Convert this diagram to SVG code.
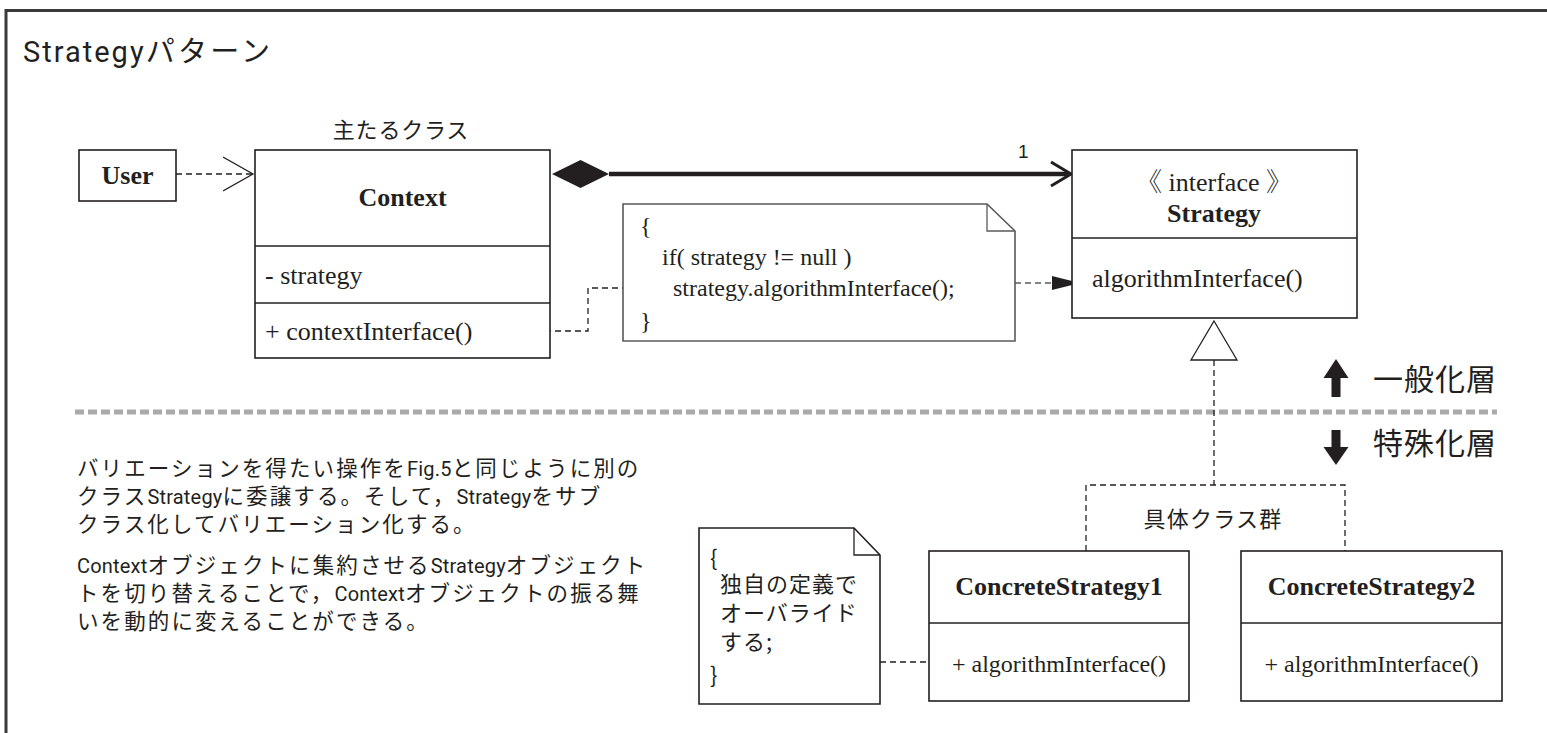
<svg xmlns="http://www.w3.org/2000/svg" width="1547" height="733" viewBox="0 0 1547 733">
  <style>
    .box { fill: #fff; stroke: #231f20; stroke-width: 1.6; }
    .note { fill: #fff; stroke: #58595b; stroke-width: 1.6; }
    .sep { stroke: #231f20; stroke-width: 1.4; }
    .dash { fill: none; stroke: #231f20; stroke-width: 1.3; stroke-dasharray: 6 4; }
    .dashg { fill: none; stroke: #58595b; stroke-width: 1.3; stroke-dasharray: 6 4; }
    .serif { font-family: "Liberation Serif", "Times New Roman", "Noto Serif CJK JP", "Noto Sans CJK JP", serif; fill: #231f20; }
    .bold { font-weight: bold; }
    .jp { font-family: "Noto Sans CJK JP", "Noto Sans", sans-serif; fill: #231f20; }
    .lat { font-family: Roboto, "Liberation Sans", sans-serif; }
    .sans { font-family: "Liberation Sans", Arial, sans-serif; fill: #231f20; }
    .desc { font-size: 21.5px; letter-spacing: 2.1px; }
    .desc .lat { font-size: 20px; letter-spacing: 0.2px; }
  </style>
  <defs>
    <marker id="openArrow" markerWidth="40" markerHeight="40" refX="30" refY="20" markerUnits="userSpaceOnUse" orient="auto">
      <path d="M0,3 L30,20 L0,37" fill="none" stroke="#231f20" stroke-width="1.3"/>
    </marker>
    <marker id="filledArrow" markerWidth="30" markerHeight="20" refX="28" refY="10" markerUnits="userSpaceOnUse" orient="auto">
      <path d="M0,3 L28,10 L0,17 Z" fill="#231f20"/>
    </marker>
  </defs>

  <rect width="1547" height="733" fill="#fff"/>

  <!-- outer frame (open on the right and bottom) -->
  <path d="M6,733 V10.5 H1547" fill="none" stroke="#3a3a3a" stroke-width="3"/>

  <text class="jp" x="23" y="62" font-size="29"><tspan class="lat" letter-spacing="2">Strategy</tspan><tspan letter-spacing="3.3">パターン</tspan></text>

  <!-- layer separator -->
  <line x1="75" y1="412" x2="1497" y2="412" stroke="#aaaaaa" stroke-width="5" stroke-dasharray="9 4"/>

  <!-- connectors -->
  <g id="connectors">
    <line class="dash" x1="176" y1="174" x2="253" y2="174" marker-end="url(#openArrow)"/>
    <polygon points="552,174 580.5,160 609,174 580.5,188" fill="#231f20"/>
    <line x1="609" y1="174" x2="1068" y2="174" stroke="#231f20" stroke-width="4.5"/>
    <path d="M1051,162 L1071,174 L1051,186" fill="none" stroke="#231f20" stroke-width="3"/>
    <text class="sans" x="1018" y="158" font-size="19">1</text>
    <path class="dash" d="M515,331 H588 V288 H623"/>
    <line class="dashg" x1="965" y1="283" x2="1080" y2="283" marker-end="url(#filledArrow)"/>
    <polygon points="1214,321 1237,360 1191,360" fill="#fff" stroke="#231f20" stroke-width="1.3"/>
    <line class="dash" x1="1214" y1="360" x2="1214" y2="485"/>
    <path class="dash" d="M1086,551 V485 H1345 V551"/>
    <line class="dash" x1="880" y1="662" x2="945" y2="662"/>
  </g>

  <g id="user">
    <rect class="box" x="79" y="150" width="97" height="51"/>
    <text class="serif bold" x="127.5" y="184" font-size="26" text-anchor="middle">User</text>
  </g>

  <g id="context">
    <text class="jp" x="401" y="138" font-size="22" text-anchor="middle" letter-spacing="0.8">主たるクラス</text>
    <rect class="box" x="255" y="150" width="295" height="208"/>
    <line class="sep" x1="255" y1="246" x2="550" y2="246"/>
    <line class="sep" x1="255" y1="303" x2="550" y2="303"/>
    <text class="serif bold" x="402.5" y="206" font-size="26" text-anchor="middle">Context</text>
    <text class="serif" x="265" y="284" font-size="26">- strategy</text>
    <text class="serif" x="265" y="340" font-size="26">+ contextInterface()</text>
  </g>

  <g id="context-note">
    <path class="note" d="M623,204 H987 L1015,231 V341 H623 Z"/>
    <path d="M987,204 V231 H1015" fill="none" stroke="#58595b" stroke-width="1.3"/>
    <text class="serif" x="640" y="234" font-size="24">{</text>
    <text class="serif" x="662" y="265" font-size="24">if( strategy != null )</text>
    <text class="serif" x="673" y="296" font-size="24">strategy.algorithmInterface();</text>
    <text class="serif" x="640" y="329" font-size="24">}</text>
  </g>

  <g id="strategy">
    <rect class="box" x="1072" y="150" width="285" height="168"/>
    <line class="sep" x1="1072" y1="238" x2="1357" y2="238"/>
    <text class="serif" x="1214" y="191" font-size="26" text-anchor="middle">《 interface 》</text>
    <text class="serif bold" x="1214" y="222" font-size="26" text-anchor="middle">Strategy</text>
    <text class="serif" x="1092" y="287" font-size="26">algorithmInterface()</text>
  </g>

  <g id="layer-labels">
    <path d="M1336,359 L1348.5,378 L1340.5,378 L1340.5,397 L1331.5,397 L1331.5,378 L1323.5,378 Z" fill="#231f20"/>
    <text class="jp" x="1373" y="390" font-size="30" letter-spacing="1">一般化層</text>
    <path d="M1336,465 L1348.5,447 L1340.5,447 L1340.5,430 L1331.5,430 L1331.5,447 L1323.5,447 Z" fill="#231f20"/>
    <text class="jp" x="1373" y="454" font-size="30" letter-spacing="1">特殊化層</text>
  </g>

  <g id="description">
    <text class="jp desc">
      <tspan x="77" y="476">バリエーションを得たい操作を<tspan class="lat">Fig.5</tspan>と同じように別の</tspan>
      <tspan x="77" y="504">クラス<tspan class="lat">Strategy</tspan>に委譲する。そして，<tspan class="lat">Strategy</tspan>をサブ</tspan>
      <tspan x="77" y="532">クラス化してバリエーション化する。</tspan>
      <tspan x="77" y="573"><tspan class="lat">Context</tspan>オブジェクトに集約させる<tspan class="lat">Strategy</tspan>オブジェクト</tspan>
      <tspan x="77" y="601">トを切り替えることで，<tspan class="lat">Context</tspan>オブジェクトの振る舞</tspan>
      <tspan x="77" y="629">いを動的に変えることができる。</tspan>
    </text>
  </g>

  <g id="group-label">
    <text class="jp" x="1213" y="527" font-size="22" text-anchor="middle" letter-spacing="1.2">具体クラス群</text>
  </g>

  <g id="override-note">
    <path class="box" d="M699,528 H854 L880,555 V704 H699 Z"/>
    <path d="M854,528 V555 H880" fill="none" stroke="#231f20" stroke-width="1.3"/>
    <text class="jp" font-size="22" letter-spacing="1">
      <tspan x="710" y="566">{</tspan>
      <tspan x="720" y="592">独自の定義で</tspan>
      <tspan x="720" y="621">オーバライド</tspan>
      <tspan x="720" y="650">する;</tspan>
      <tspan x="710" y="683">}</tspan>
    </text>
  </g>

  <g id="concrete-strategy-1">
    <rect class="box" x="929" y="551" width="260" height="150"/>
    <line class="sep" x1="929" y1="623" x2="1189" y2="623"/>
    <text class="serif bold" x="1059" y="595" font-size="26" text-anchor="middle">ConcreteStrategy1</text>
    <text class="serif" x="1059" y="672" font-size="24" text-anchor="middle">+ algorithmInterface()</text>
  </g>

  <g id="concrete-strategy-2">
    <rect class="box" x="1241" y="551" width="261" height="150"/>
    <line class="sep" x1="1241" y1="623" x2="1502" y2="623"/>
    <text class="serif bold" x="1371.5" y="595" font-size="26" text-anchor="middle">ConcreteStrategy2</text>
    <text class="serif" x="1371.5" y="672" font-size="24" text-anchor="middle">+ algorithmInterface()</text>
  </g>
</svg>
